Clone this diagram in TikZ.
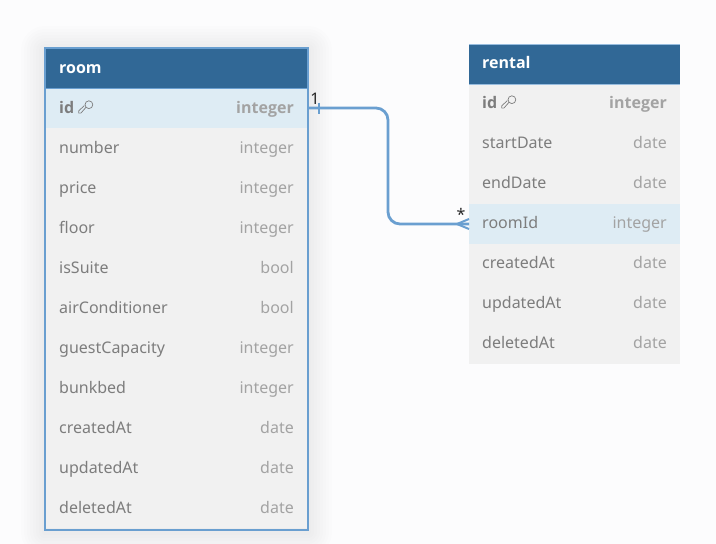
\documentclass[tikz,border=0pt]{standalone}
\usepackage{fontspec}
\setmainfont{Noto Sans}
\newfontfamily\heavyface{Open Sans}[Scale=1.0,BoldFont={Open Sans Bold}]
\definecolor{pagebg}{HTML}{FCFCFD}
\definecolor{headfill}{HTML}{316896}
\definecolor{rowfill}{HTML}{F1F1F1}
\definecolor{hilite}{HTML}{DEECF4}
\definecolor{edge}{HTML}{6A9FD0}
\definecolor{namegrey}{HTML}{7D7D7D}
\definecolor{typegrey}{HTML}{A3A3A3}
\tikzset{
  x=1pt,y=-1pt,
  rowbase/.style={draw=none,inner sep=0pt,outer sep=0pt,anchor=north west,minimum height=40pt},
  headbox/.style={rowbase,fill=headfill},
  fieldname/.style={inner sep=0pt,anchor=base west,text=namegrey,font=\fontsize{16}{18}\selectfont},
  fieldtype/.style={inner sep=0pt,anchor=base east,text=typegrey,font=\fontsize{16}{18}\selectfont},
  strong/.style={font=\fontsize{16}{18}\selectfont\heavyface\bfseries},
  headtext/.style={inner sep=0pt,anchor=base west,text=white,strong},
  link/.style={draw=edge,line width=2.8pt,rounded corners=12pt},
  mark line/.style={draw=edge,line width=2pt},
  endlabel/.style={inner sep=0pt,text=black!85,font=\fontsize{16}{18}\selectfont},
  keyicon/.style={draw=namegrey,line width=0.7pt,fill=none,line join=round},
}
% \tablerow{node name}{left}{top}{width}{fill}{font}{field}{type}{text inset}{baseline}
\newcommand{\tablerow}[9]{%
  \node[rowbase,fill=#5,minimum width=#4pt] (#1) at (#2,#3) {};
  \node[fieldname,#6] (#1-name) at ($(#2,#3)+(#9,#7)$) {\fieldlabel};
  \node[fieldtype,#6] (#1-type) at ($(#2,#3)+(#4,0)+(-#9,#7)$) {#8};
}
\newcommand{\fieldlabel}{}
\newcommand{\keyglyph}[1]{%
  \draw[keyicon] ($(#1)+(3.4,-2.8)$) circle[radius=3.9pt];
  \draw[keyicon] ($(#1)+(0.5,-0.2)$) -- ($(#1)+(-4.6,5.6)$) -- ($(#1)+(-6.8,5.6)$) -- ($(#1)+(-6.8,3.4)$) -- ($(#1)+(-1.2,-1.9)$);
}
\usetikzlibrary{calc}
\begin{document}
\begin{tikzpicture}
\useasboundingbox (0,0) rectangle (716,544);
\fill[pagebg] (0,0) rectangle (716,544);
% soft glow round the selected table
\foreach \g in {24,21,18,15,12,9,6,3}{
  \fill[black,opacity=0.0065,rounded corners=\g pt] (45-\g,48-\g+2) rectangle (308+\g,530+\g+2);
}
% room
\node[headbox,minimum width=263pt] (room) at (45,48) {};
\node[headtext] (room-title) at (59,73) {room};
\renewcommand{\fieldlabel}{id}\tablerow{room-id}{45}{88}{263}{hilite}{strong}{25}{integer}{14}
\renewcommand{\fieldlabel}{number}\tablerow{room-number}{45}{128}{263}{rowfill}{}{25}{integer}{14}
\renewcommand{\fieldlabel}{price}\tablerow{room-price}{45}{168}{263}{rowfill}{}{25}{integer}{14}
\renewcommand{\fieldlabel}{floor}\tablerow{room-floor}{45}{208}{263}{rowfill}{}{25}{integer}{14}
\renewcommand{\fieldlabel}{isSuite}\tablerow{room-isSuite}{45}{248}{263}{rowfill}{}{25}{bool}{14}
\renewcommand{\fieldlabel}{airConditioner}\tablerow{room-air}{45}{288}{263}{rowfill}{}{25}{bool}{14}
\renewcommand{\fieldlabel}{guestCapacity}\tablerow{room-guest}{45}{328}{263}{rowfill}{}{25}{integer}{14}
\renewcommand{\fieldlabel}{bunkbed}\tablerow{room-bunk}{45}{368}{263}{rowfill}{}{25}{integer}{14}
\renewcommand{\fieldlabel}{createdAt}\tablerow{room-created}{45}{408}{263}{rowfill}{}{25}{date}{14}
\renewcommand{\fieldlabel}{updatedAt}\tablerow{room-updated}{45}{448}{263}{rowfill}{}{25}{date}{14}
\renewcommand{\fieldlabel}{deletedAt}\tablerow{room-deleted}{45}{488}{263}{rowfill}{}{25}{date}{14}
\draw[edge,line width=2pt] (45,48) rectangle (308,530);
\draw[edge,line width=1pt] (45,88) -- (308,88);
\coordinate (room-key) at (85.5,107.5);
\keyglyph{room-key}
% rental
\node[headbox,minimum width=211pt] (rental) at (469,44) {};
\node[headtext] (rental-title) at (482,68) {rental};
\renewcommand{\fieldlabel}{id}\tablerow{rental-id}{469}{84}{211}{rowfill}{strong}{24}{integer}{13}
\renewcommand{\fieldlabel}{startDate}\tablerow{rental-start}{469}{124}{211}{rowfill}{}{24}{date}{13}
\renewcommand{\fieldlabel}{endDate}\tablerow{rental-end}{469}{164}{211}{rowfill}{}{24}{date}{13}
\renewcommand{\fieldlabel}{roomId}\tablerow{rental-roomId}{469}{204}{211}{hilite}{}{24}{integer}{13}
\renewcommand{\fieldlabel}{createdAt}\tablerow{rental-created}{469}{244}{211}{rowfill}{}{24}{date}{13}
\renewcommand{\fieldlabel}{updatedAt}\tablerow{rental-updated}{469}{284}{211}{rowfill}{}{24}{date}{13}
\renewcommand{\fieldlabel}{deletedAt}\tablerow{rental-deleted}{469}{324}{211}{rowfill}{}{24}{date}{13}
\draw[edge!70,line width=0.8pt] (469,44) -- (680,44);
\draw[edge!70,line width=0.8pt] (469,84) -- (680,84);
\coordinate (rental-key) at (508.5,102.5);
\keyglyph{rental-key}
% connector
\draw[link] (room-id.east) -- ($(room-id.east)+(80,0)$) |- (rental-roomId.west);
\draw[mark line] ($(room-id.east)+(11,-5.5)$) -- ($(room-id.east)+(11,5.5)$);
\draw[mark line] ($(rental-roomId.west)+(-12,0)$) -- ($(rental-roomId.west)+(0,-5)$);
\draw[mark line] ($(rental-roomId.west)+(-12,0)$) -- ($(rental-roomId.west)+(0,5)$);
\node[endlabel] (one) at (315,99) {1};
\node[endlabel] (many) at (461,214) {*};
\end{tikzpicture}
\end{document}
